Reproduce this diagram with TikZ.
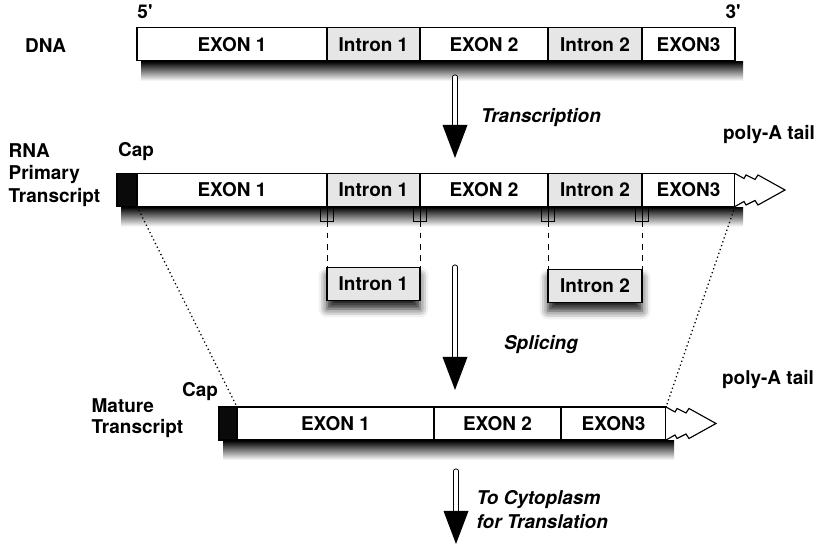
\documentclass[tikz,border=0pt]{standalone}
\usepackage{fontspec}
\setsansfont{TeX Gyre Heros}
\usetikzlibrary{positioning, calc, shadows.blur}
\definecolor{cIntron}{HTML}{E6E6E6}
\definecolor{cCap}{HTML}{0A0A0A}
\tikzset{
    x=1cm, y=1cm, font=\sffamily\bfseries\fontsize{13.5}{16}\selectfont,
    seg/.style={draw=black, line width=0.8pt, minimum height=0.825cm,
                inner sep=0pt, outer sep=0pt, anchor=west},
    exon/.style={seg, fill=white},
    intron/.style={seg, fill=cIntron},
    capbox/.style={seg, fill=cCap},
    boxshadow/.style={blur shadow={shadow xshift=0pt, shadow yshift=-6pt,
                      shadow blur radius=6pt, shadow opacity=90}},
    barshade/.style={top color=black, middle color=black!55, bottom color=white},
    polytail/.style={draw=black, line width=0.8pt, fill=white, line join=miter},
    shaft/.style={double=white, double distance=2.2pt, line width=0.7pt,
                  line cap=round},
    headfill/.style={fill=black},
    cut/.style={dash pattern=on 4pt off 4pt, line width=0.7pt},
    guide/.style={dotted, line width=0.9pt},
    notch/.style={line width=0.6pt},
    lbl/.style={inner sep=1pt, align=left},
    proc/.style={lbl, font=\sffamily\bfseries\itshape\fontsize{13.5}{17}\selectfont},
}
\newcommand{\flecha}[2]{%
    \draw[shaft] (#1) -- ($(#2)+(0,0.8)$);
    \fill[headfill] ($(#2)+(-0.3125,0.825)$) -- ($(#2)+(0.3125,0.825)$) -- (#2) -- cycle;
}
\newcommand{\cola}[1]{%
    \begin{scope}[shift={(#1)}]
        \draw[polytail] (0,0) -- (0.225,-0.125) -- (0.275,-0.0375) -- (0.5,-0.15)
            -- (0.575,-0.0375) -- (1.25,-0.4125) -- (0.575,-0.7875) -- (0.5,-0.675)
            -- (0.275,-0.7875) -- (0.225,-0.7) -- (0,-0.825);
    \end{scope}
}
\newcommand{\sombra}[2]{%
    \shade[barshade] ($(#1)+(0.1,-0.014)$) rectangle ($(#2)+(0.2,-0.5)$);
}

\begin{document}
\begin{tikzpicture}
    \useasboundingbox (0,0) rectangle (20.4,13.65);

    % DNA
    \node[exon, minimum width=4.75cm] (dE1) at (3.425,12.54) {EXON 1};
    \node[intron, minimum width=2.325cm, right=0pt of dE1] (dI1) {Intron 1};
    \node[exon, minimum width=3.2cm, right=0pt of dI1] (dE2) {EXON 2};
    \node[intron, minimum width=2.35cm, right=0pt of dE2] (dI2) {Intron 2};
    \node[exon, minimum width=2.325cm, right=0pt of dI2] (dE3) {EXON3};
    \sombra{dE1.south west}{dE3.south east}
    \node[lbl] (lDNA) at (1.14,12.5) {DNA};
    \node[lbl] (l5) at (3.625,13.35) {5\textquotesingle};
    \node[lbl] (l3) at (18.33,13.35) {3\textquotesingle};

    \coordinate (a1) at (11.375,11.725);
    \coordinate (a1e) at (11.375,9.7);
    \flecha{a1}{a1e}
    \node[proc] (lTr) at (13.525,10.7) {Transcription};

    % RNA primary transcript
    \node[capbox, minimum width=0.5cm] (rC) at (2.925,8.9) {};
    \node[exon, minimum width=4.75cm, right=0pt of rC] (rE1) {EXON 1};
    \node[intron, minimum width=2.325cm, right=0pt of rE1] (rI1) {Intron 1};
    \node[exon, minimum width=3.2cm, right=0pt of rI1] (rE2) {EXON 2};
    \node[intron, minimum width=2.35cm, right=0pt of rE2] (rI2) {Intron 2};
    \node[exon, minimum width=2.325cm, right=0pt of rI2] (rE3) {EXON3};
    \sombra{rC.south west}{rE3.south east}
    \cola{rE3.north east}
    \node[lbl, anchor=west] (lRNA) at (0.175,9.275) {RNA\\Primary\\Transcript};
    \node[lbl] (lCap1) at (3.4,9.85) {Cap};
    \node[lbl] (lTail1) at (19.225,10.275) {poly-A tail};

    % excised introns
    \node[intron, boxshadow, minimum width=2.325cm, below=1.525cm of rI1] (xI1) {Intron 1};
    \node[intron, boxshadow, minimum width=2.35cm, below=1.575cm of rI2] (xI2) {Intron 2};
    \foreach \p in {rI1.south west, rI1.south east, rI2.south west, rI2.south east} {
        \draw[notch] ($(\p)+(-0.16,0)$) -- ++(0,-0.375) -- ++(0.32,0) -- ++(0,0.375);
        \draw[notch] (\p) -- ++(0,-0.375);
    }
    \draw[cut] ($(rI1.south west)+(0,-0.375)$) -- (xI1.north west);
    \draw[cut] ($(rI1.south east)+(0,-0.375)$) -- (xI1.north east);
    \draw[cut] ($(rI2.south west)+(0,-0.375)$) -- (xI2.north west);
    \draw[cut] ($(rI2.south east)+(0,-0.375)$) -- (xI2.north east);

    \coordinate (a2) at (11.375,6.975);
    \coordinate (a2e) at (11.375,3.9);
    \flecha{a2}{a2e}
    \node[proc] (lSp) at (13.525,5.025) {Splicing};

    % mature transcript
    \node[capbox, minimum width=0.45cm] (mC) at (5.475,3.0625) {};
    \node[exon, minimum width=4.925cm, right=0pt of mC] (mE1) {EXON 1};
    \node[exon, minimum width=3.175cm, right=0pt of mE1] (mE2) {EXON 2};
    \node[exon, minimum width=2.625cm, right=0pt of mE2] (mE3) {EXON3};
    \sombra{mC.south west}{mE3.south east}
    \cola{mE3.north east}
    \node[lbl, anchor=west, font=\sffamily\bfseries\fontsize{13.5}{15}\selectfont]
        (lMat) at (2.25,3.2) {Mature\\Transcript};
    \node[lbl] (lCap2) at (5.0,3.85) {Cap};
    \node[lbl] (lTail2) at (19.2,4.15) {poly-A tail};

    \draw[guide] (rE1.south west) -- (mE1.north west);
    \draw[guide] (rE3.south east) -- (mE3.north east);

    \coordinate (a3) at (11.4,1.875);
    \coordinate (a3e) at (11.4,0.05);
    \flecha{a3}{a3e}
    \node[proc, anchor=west] (lTo) at (11.875,0.9) {To Cytoplasm\\for Translation};
\end{tikzpicture}
\end{document}
